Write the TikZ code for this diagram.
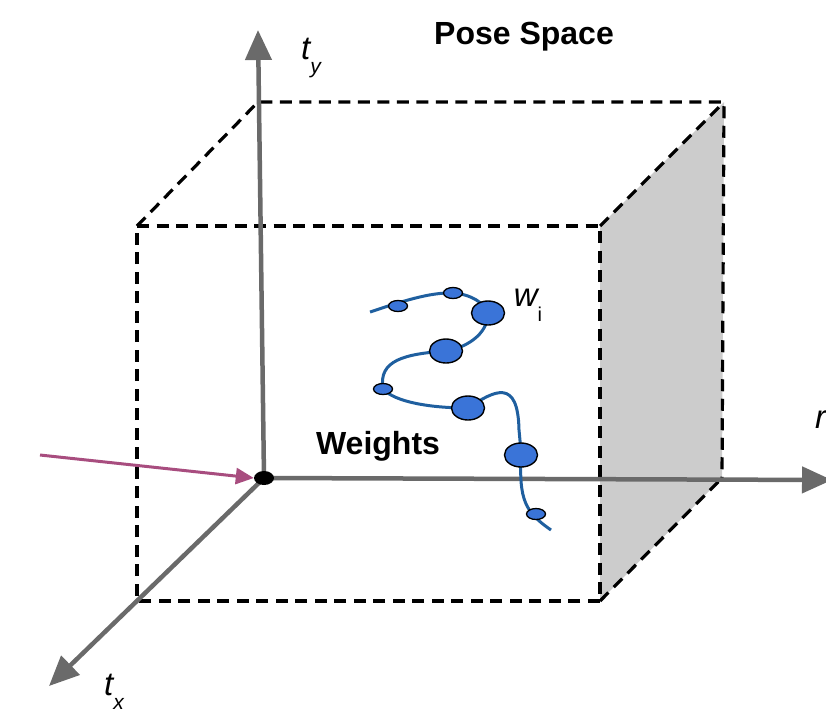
\documentclass[tikz,border=0pt]{standalone}
\usepackage{fontspec}
\setmainfont{Liberation Sans}
\usetikzlibrary{arrows.meta,shapes.geometric}
\definecolor{axisgray}{HTML}{6A6A6A}
\definecolor{facegray}{HTML}{CCCCCC}
\definecolor{curveblue}{HTML}{1F5F9F}
\definecolor{dotblue}{HTML}{3A74D8}
\definecolor{magarrow}{HTML}{A84D7F}
\begin{document}
\begin{tikzpicture}[x=1pt,y=-1pt,
  boxedge/.style={black,line width=3.2pt,dash pattern=on 12pt off 7.5pt},
  axisline/.style={axisgray,line width=4.5pt,-{Triangle[length=30pt,width=26pt]}},
  bigdot/.style={draw=black,line width=1.4pt,fill=dotblue,ellipse,minimum width=33pt,minimum height=24pt,inner sep=0pt},
  smalldot/.style={draw=black,line width=1.3pt,fill=dotblue,ellipse,minimum width=19pt,minimum height=11pt,inner sep=0pt},
  lbl/.style={font=\fontsize{33}{33}\selectfont\itshape,inner sep=0pt},
  title/.style={font=\fontsize{32}{32}\selectfont\bfseries,inner sep=0pt}]
\useasboundingbox (0,0) rectangle (826,718);
% cube corners
\coordinate (FTL) at (137,226);
\coordinate (FTR) at (600,226);
\coordinate (FBL) at (137,601);
\coordinate (FBR) at (600,601);
\coordinate (BTL) at (258,102);
\coordinate (BTR) at (724,102);
\coordinate (BBR) at (722,478);
\coordinate (O) at (264,478);
\coordinate (TY) at (258,30);
\coordinate (RX) at (832,480);
\coordinate (TX) at (49,686);
\coordinate (MS) at (40,455);
% gray face
\fill[facegray] (FTR) -- (BTR) -- (BBR) -- (FBR) -- cycle;
% dashed edges
\draw[boxedge] (FTL) -- (FTR) -- (FBR) -- (FBL) -- cycle;
\draw[boxedge] (FTL) -- (BTL) -- (BTR) -- (BBR);
\draw[boxedge] (FTR) -- (BTR);
\draw[boxedge] (FBR) -- (BBR);
% axes
\draw[axisline] (O) -- (TY);
\draw[axisline] (O) -- (RX);
\draw[axisline] (O) -- (TX);
\node[ellipse,fill=black,minimum width=20pt,minimum height=14pt,inner sep=0pt] (od) at (O) {};
% magenta arrow
\draw[magarrow,line width=3pt,-{Triangle[length=18pt,width=16pt]}] (MS) -- (od.west);
% curve
\coordinate (c0) at (370,312);
\coordinate (c1) at (453,293);
\coordinate (c2) at (488,313);
\coordinate (c3) at (446,351);
\coordinate (c4) at (383,389);
\coordinate (c5) at (468,408);
\coordinate (c6) at (521,455);
\coordinate (c7) at (551,530);
\draw[curveblue,line width=3pt]
  (c0) .. controls (400,302) and (430,292) .. (c1)
       .. controls (470,294) and (485,303) .. (c2)
       .. controls (488,335) and (465,348) .. (c3)
       .. controls (405,354) and (378,360) .. (c4)
       .. controls (395,402) and (430,408) .. (c5)
       .. controls (495,390) and (518,378) .. (519,430)
       .. controls (520,440) .. (c6)
       .. controls (519,500) and (525,512) .. (c7);
\node[smalldot] (d1) at (398,306) {};
\node[smalldot] (d2) at (c1) {};
\node[bigdot] (d3) at (c2) {};
\node[bigdot] (d4) at (c3) {};
\node[smalldot] (d5) at (c4) {};
\node[bigdot] (d6) at (c5) {};
\node[bigdot] (d7) at (c6) {};
\node[smalldot] (d8) at (536,514) {};
% labels
\node[title] (ps) at (524,37) {Pose Space};
\node[title] (wt) at (378,446) {Weights};
\node[lbl] (ty) at (311,58) {t\raisebox{-0.42em}{\fontsize{21}{21}\selectfont y}};
\node[lbl] (tx) at (114,692) {t\raisebox{-0.42em}{\fontsize{21}{21}\selectfont x}};
\node[lbl] (wi) at (528,305) {w\raisebox{-0.45em}{\fontsize{20}{20}\selectfont\upshape i}};
\node[lbl,anchor=west] (rl) at (815,420) {r};
\end{tikzpicture}
\end{document}
